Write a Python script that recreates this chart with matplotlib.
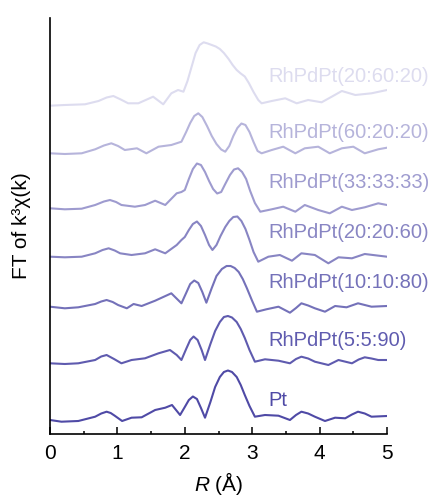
import numpy as np
import matplotlib
matplotlib.use("Agg")
import matplotlib.pyplot as plt

plt.rcParams["font.family"] = ["Liberation Sans", "DejaVu Sans"]
plt.rcParams["mathtext.fontset"] = "custom"
plt.rcParams["mathtext.it"] = "Liberation Sans:italic"
plt.rcParams["mathtext.rm"] = "Liberation Sans"

# ---- data (R in Angstrom, FT magnitude in arb. units) ----
names = ["Pt", "RhPdPt(5:5:90)", "RhPdPt(10:10:80)", "RhPdPt(20:20:60)",
         "RhPdPt(33:33:33)", "RhPdPt(60:20:20)", "RhPdPt(20:60:20)"]

r_pt = [0, 0.17, 0.42, 0.67, 0.76, 0.84, 0.90, 0.96, 1.07, 1.21, 1.36, 1.56, 1.71, 1.81, 1.93,
        2.00, 2.06, 2.12, 2.18, 2.24, 2.30, 2.38, 2.45, 2.52, 2.58, 2.64, 2.70, 2.77, 2.83,
        2.89, 2.96, 3.04, 3.19, 3.39, 3.56, 3.65, 3.73, 3.83, 3.93, 4.08, 4.23, 4.38, 4.48,
        4.57, 4.67, 4.77, 5.0]
ft_pt = [0, -1.7, -1, 3.3, 6.5, 8.3, 7, 4.3, -1, 2.3, 2.7, 10, 12.3, 15, 5,
         13, 20, 23.5, 21, 12, 2.3, 18, 33, 43, 48, 49.5, 48, 43, 35,
         25, 14, 3.3, 5, 4.3, 0, 5, 8.3, 6.5, 3.3, -1, 2.3, 1.7, 5.5,
         8.3, 6.5, 3.3, 4]

r_5590 = [0, 0.22, 0.42, 0.67, 0.76, 0.84, 0.95, 1.06, 1.21, 1.41, 1.61, 1.78, 1.88, 1.95,
          2.02, 2.08, 2.13, 2.19, 2.25, 2.30, 2.38, 2.45, 2.52, 2.58, 2.64, 2.70, 2.77, 2.83,
          2.89, 2.96, 3.04, 3.19, 3.39, 3.56, 3.65, 3.73, 3.83, 3.93, 4.13, 4.28, 4.48, 4.58,
          4.67, 4.77, 4.87, 5.0]
ft_5590 = [0.7, 0, 0.7, 4, 7.5, 9, 5, 0.7, 4, 5.7, 10.7, 14, 9, 4,
           15, 24, 27.5, 24, 14, 4, 20, 33, 42, 47, 48, 46.5, 42, 35,
           26, 14, 2.3, 4.7, 3.3, 0.7, 5, 7.3, 5.5, 2.3, -1, 4, 0.7, 4.5,
           6.7, 5.5, 4, 4]

r_101080 = [0, 0.22, 0.42, 0.67, 0.76, 0.84, 0.93, 1.01, 1.14, 1.24, 1.36, 1.56, 1.80, 1.95,
            2.02, 2.08, 2.14, 2.20, 2.26, 2.32, 2.40, 2.47, 2.55, 2.62, 2.68, 2.74, 2.80, 2.86,
            2.92, 3.00, 3.07, 3.21, 3.39, 3.56, 3.65, 3.73, 3.83, 3.93, 4.08, 4.23, 4.40, 4.57,
            4.77, 5.0]
ft_101080 = [0.3, -1.3, -0.3, 3, 5.5, 7, 5, 2, -1.3, 3, 1, 6.3, 13.7, 3.7,
             14, 23, 26.5, 24, 15, 4.3, 19, 31, 38, 41, 41, 39, 35, 28,
             19, 6, -4.7, -2.3, 0.3, -5.7, -1, 3.7, 1.5, -1.3, -4.7, 1, -0.3, 3.7,
             0.3, 1]

r_202060 = [0, 0.22, 0.47, 0.67, 0.78, 0.87, 0.96, 1.04, 1.21, 1.41, 1.56, 1.71, 1.88, 1.95, 2.00,
            2.06, 2.12, 2.18, 2.24, 2.30, 2.36, 2.41, 2.47, 2.53, 2.60, 2.66, 2.72, 2.78, 2.84,
            2.90, 2.96, 3.02, 3.09, 3.24, 3.41, 3.59, 3.73, 3.93, 4.13, 4.28, 4.48, 4.67, 5.0]
ft_202060 = [0.3, -0.3, 0.3, 3.7, 7, 8.7, 6.5, 3.7, 2, 3.7, 7.7, 3.7, 12, 17, 20,
             27, 33, 35.5, 31, 22, 12, 7, 12, 21, 30, 36, 40, 40.5, 36,
             28, 17, 5, -4.7, 0.3, 2, -3.7, 3.7, 2, -6.3, -0.3, -1.3, 3, 0.3]

r_333333 = [0, 0.22, 0.47, 0.67, 0.80, 0.89, 0.98, 1.06, 1.26, 1.41, 1.56, 1.71, 1.88, 1.95, 2.00,
            2.06, 2.12, 2.18, 2.24, 2.30, 2.36, 2.42, 2.48, 2.54, 2.60, 2.67, 2.73, 2.79, 2.85,
            2.91, 2.97, 3.04, 3.12, 3.29, 3.46, 3.64, 3.78, 3.98, 4.15, 4.33, 4.48, 4.67, 4.87, 5.0]
ft_333333 = [0.7, -0.3, 0.3, 4, 7.5, 9, 7, 4, 2.3, 4, 8.3, 4, 15.7, 17, 19,
             30, 40, 45.5, 44, 37, 28, 20, 15.5, 17, 25, 34, 39.5, 40.7, 37,
             30, 18, 6, -2.7, -0.3, 2.3, -2.7, 4, -1, -4.3, 2.3, -1, 1.7, 5.7, 4]

r_602020 = [0, 0.22, 0.47, 0.67, 0.80, 0.91, 1.01, 1.11, 1.29, 1.43, 1.61, 1.80, 1.95,
            2.02, 2.08, 2.14, 2.20, 2.26, 2.33, 2.40, 2.47, 2.54, 2.60, 2.66, 2.72, 2.78, 2.84,
            2.90, 2.96, 3.02, 3.08, 3.14, 3.29, 3.46, 3.64, 3.78, 3.98, 4.15, 4.33, 4.50, 4.67,
            4.87, 5.0]
ft_602020 = [0.7, 0, 0.7, 4.7, 8.5, 10.7, 8, 4, 5.7, 0.7, 7.3, 9, 12.3,
             22, 31, 38, 40.7, 37, 28, 18, 10, 4.5, 2.3, 8, 18, 26, 30.5,
             29, 22, 12, 3, 0.7, 4, 7.3, 0.7, 5.7, 7.3, 0.7, 5.7, 7.3, 0.7,
             4.7, 6.3]

r_206020 = [0, 0.22, 0.52, 0.72, 0.84, 0.94, 1.05, 1.16, 1.31, 1.53, 1.68, 1.80, 1.90, 1.98,
            2.04, 2.10, 2.16, 2.22, 2.28, 2.34, 2.40, 2.46, 2.52, 2.58, 2.65, 2.71, 2.77, 2.83,
            2.89, 2.95, 3.02, 3.09, 3.14, 3.29, 3.49, 3.66, 3.83, 4.03, 4.18, 4.33, 4.53, 4.77, 5.0]
ft_206020 = [-0.7, 0, 0.7, 4, 7.5, 9, 5.5, 1.7, 1.7, 8.3, 0.7, 11.7, 15, 13.3,
             24, 38, 52, 60, 62.7, 61.5, 60, 58.5, 56, 52, 46, 40, 35, 31.5,
             28.5, 22, 13, 5, 1.7, 4, 6.7, 1.7, 5, 2.7, 8.3, 14, 10, 11.7, 15]

r_all = [r_pt, r_5590, r_101080, r_202060, r_333333, r_602020, r_206020]
ft_all = [ft_pt, ft_5590, ft_101080, ft_202060, ft_333333, ft_602020, ft_206020]

# vertical stacking and styling
offsets = [14, 70, 127, 177, 225, 280, 329]
label_y = [34, 94, 151, 202, 251, 301, 357]
colors = ["#4f4aa6", "#5f5baf", "#7471b9", "#8885c3", "#9e9bcf", "#b6b4db", "#dddcef"]

fig = plt.figure(figsize=(4.45, 4.97), dpi=100)
ax = fig.add_axes([50 / 445, 1 - 434 / 497, 337 / 445, 416 / 497])

for r, ft, off, ly, c, name in zip(r_all, ft_all, offsets, label_y, colors, names):
    ax.plot(r, np.array(ft) + off, color=c, lw=1.5, solid_joinstyle="round")
    ax.text(3.24, ly, name, color=c, fontsize=14.5, ha="left", va="center", clip_on=False)

ax.set_xlim(0, 5)
ax.set_ylim(0, 416)
ax.set_xticks(np.arange(0, 6, 1))
ax.set_xticks(np.arange(0.5, 5, 1), minor=True)
ax.set_yticks([])
ax.tick_params(axis="x", which="major", direction="in", length=5, width=1.1, labelsize=15, pad=7)
ax.tick_params(axis="x", which="minor", direction="in", length=2.5, width=1.1)
for s in ["top", "right"]:
    ax.spines[s].set_visible(False)
for s in ["left", "bottom"]:
    ax.spines[s].set_linewidth(1.2)

ax.set_xlabel("$R$ (Å)", fontsize=15, labelpad=5)
ax.set_ylabel("FT of k³χ(k)", fontsize=15, labelpad=14)

fig.savefig("out.png", dpi=100)
